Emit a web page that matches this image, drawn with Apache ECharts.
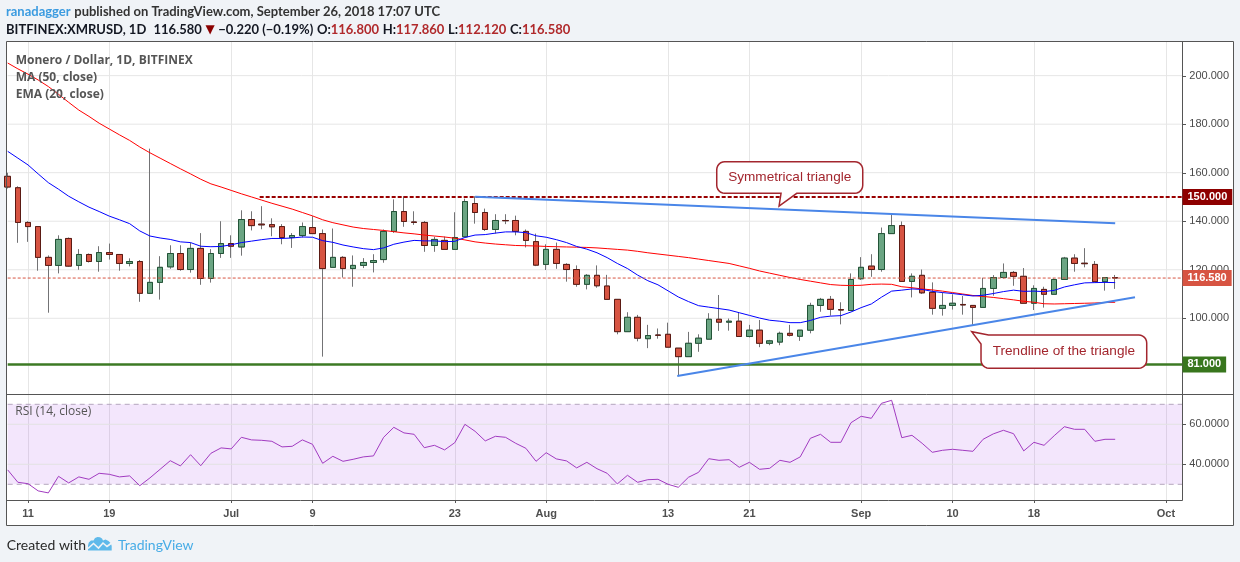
<!DOCTYPE html>
<html><head><meta charset="utf-8">
<script src="https://cdn.jsdelivr.net/npm/echarts@6/dist/echarts.min.js"></script>
<style>html,body{margin:0;padding:0;background:#f0f3f7;}#c{width:1240px;height:562px;}</style>
</head><body><div id="c"></div>
<script>
// ---------- data ----------
const startDate = [2018, 5, 9];      // 9 Jun 2018 (first daily candle)
const categoryCount = 117;           // daily slots shown on the axis (up to early Oct)
const opens = [158.5,153.8,139.5,137.8,125.1,121.8,132.9,121.8,126.3,123.4,
127.1,126.3,122.6,123.4,110.3,114.8,121.2,126.7,120.1,128.8,
116.4,126.7,130.8,129.4,140.7,138.8,138.6,137.8,133.3,134.1,
137.4,134.9,121.0,125.1,120.5,121.8,123.0,124.2,135.8,144.0,
139.7,139.5,130.0,132.1,128.4,133.6,147.3,143.6,136.6,140.3,
140.3,135.8,131.6,122.2,128.4,122.2,120.1,114.0,117.7,113.3,
107.8,94.5,100.4,91.6,93.1,93.4,87.7,84.2,89.7,91.4,
99.6,98.4,98.8,92.5,95.1,89.7,90.2,93.8,92.6,95.1,
105.3,107.8,103.6,103.2,116.3,121.5,120.1,134.9,138.2,115.2,
117.7,110.7,104.1,105.3,105.7,105.3,104.5,112.3,116.8,118.9,
117.3,106.2,111.9,109.9,116.0,124.8,122.7,122.2,115.1,116.8];
const highs = [160.0,154.4,140.0,138.0,125.9,134.2,133.3,128.5,126.7,129.7,
130.8,126.5,124.7,124.0,169.9,125.6,130.1,130.1,131.2,135.1,
128.5,140.0,134.2,144.5,144.1,146.2,141.2,138.8,135.1,139.5,
142.1,136.6,137.0,125.6,125.9,124.8,126.4,136.6,149.0,150.3,
144.1,140.1,133.6,133.7,143.7,149.3,150.3,145.2,142.9,142.9,
142.3,136.6,134.9,130.5,131.2,122.7,121.8,118.2,121.8,117.9,
107.8,102.5,101.4,97.3,95.8,98.2,87.7,94.4,93.4,102.1,
109.6,99.9,102.5,97.3,99.3,91.1,94.5,97.3,95.1,106.4,
108.4,109.2,106.6,118.5,125.2,126.4,137.4,142.9,139.9,118.5,
120.1,114.8,110.7,109.9,109.2,105.3,116.7,117.8,122.6,119.5,
120.7,113.6,113.0,116.4,125.3,126.4,128.9,123.6,117.0,117.86];
const lows = [153.5,131.1,131.5,119.6,102.3,118.5,121.2,120.0,123.0,119.2,
124.2,119.6,121.4,106.8,110.0,107.7,120.4,119.6,118.8,113.8,
114.7,124.9,124.9,125.8,136.2,136.7,133.8,130.5,129.0,133.3,
134.9,84.2,121.0,116.8,113.0,120.7,118.9,122.9,135.2,137.7,
138.5,127.4,127.4,128.4,128.4,133.4,139.0,136.0,134.9,138.8,
134.2,129.2,121.5,119.9,120.4,115.1,113.0,111.9,112.6,107.8,
93.4,94.5,90.5,87.7,91.6,88.1,76.6,84.2,86.2,91.4,
94.8,94.9,92.5,92.1,88.1,88.9,88.9,92.5,90.7,93.8,
102.7,101.1,97.5,103.2,115.8,117.1,119.2,134.9,115.2,108.6,
110.0,101.5,101.1,103.6,101.5,97.3,104.5,109.3,116.4,113.4,
106.2,103.4,104.4,109.9,116.0,119.2,121.0,115.1,111.4,112.12];
const closes = [154.1,139.5,137.8,125.1,121.8,132.5,121.5,126.3,123.4,127.1,
126.3,122.6,123.4,110.3,114.8,121.0,126.7,120.1,128.8,116.4,
126.7,130.8,129.7,140.7,138.2,138.5,137.7,133.3,134.1,137.8,
134.9,120.5,125.1,120.5,121.8,123.0,123.8,135.8,144.0,139.9,
139.5,130.0,132.5,128.4,133.3,148.1,143.6,136.6,140.3,140.2,
135.8,132.1,121.9,128.4,122.6,120.1,114.0,117.7,113.4,107.8,
94.5,100.4,91.8,92.9,93.0,88.1,84.2,89.7,91.8,99.6,
98.4,98.8,92.5,95.1,89.7,90.7,93.8,93.0,95.1,105.3,
107.8,103.7,103.4,116.0,121.0,120.1,134.9,138.2,115.2,117.3,
110.5,104.1,105.3,106.2,105.5,104.5,112.3,116.8,118.9,117.3,
106.2,112.3,109.9,116.0,124.8,122.6,122.5,115.1,116.8,116.58];
const ma50 = [205.2,202.8,200.6,198.2,195.5,192.3,189.0,185.8,183.2,180.4,
178.0,175.6,173.3,170.6,168.2,166.0,163.8,161.6,159.5,157.3,
155.4,154.1,152.7,151.3,150.0,148.7,147.4,146.2,145.0,143.6,
142.2,140.6,139.4,138.5,137.6,137.0,136.6,136.2,135.7,135.2,
134.8,134.3,133.9,133.5,133.0,132.3,131.5,131.0,130.6,130.3,
130.0,129.9,129.8,129.6,129.5,129.4,129.3,129.2,129.0,128.7,
128.4,128.1,127.6,127.0,126.5,126.0,125.5,125.0,124.4,123.8,
123.2,122.6,121.6,120.6,119.5,118.6,117.7,116.8,116.0,115.3,
114.6,113.9,113.6,113.5,113.6,114.0,114.1,114.0,113.0,112.6,
112.1,111.7,111.2,110.6,110.0,109.4,109.0,108.6,108.1,107.6,
107.0,106.6,106.0,105.9,106.0,106.1,106.2,106.3,106.5,106.6];
const ema20 = [168.8,166.0,163.2,159.5,155.9,153.2,150.3,148.0,145.8,144.0,
142.1,140.6,139.0,136.0,133.9,133.1,132.5,131.5,131.2,129.7,
129.5,129.6,130.3,131.2,131.8,132.4,132.9,132.9,133.1,133.5,
133.4,132.0,131.3,130.2,129.4,128.7,128.3,129.0,130.5,131.4,
132.1,131.9,131.9,131.6,131.7,133.3,134.3,134.5,135.1,135.6,
135.6,135.3,134.0,133.4,132.4,131.2,129.6,128.5,127.0,125.0,
122.6,120.5,117.8,115.5,113.8,111.3,108.8,106.9,105.2,104.6,
104.0,103.4,102.3,101.2,100.1,99.2,98.8,98.2,98.2,99.1,
100.4,100.9,101.1,102.6,104.4,105.9,108.7,111.2,111.6,112.1,
111.9,111.1,110.6,110.2,109.7,109.2,109.5,110.2,111.0,111.6,
111.1,111.2,111.0,111.5,112.9,113.8,114.6,114.7,114.8,114.7];
const rsi14 = [37.2,31.0,30.3,26.7,25.7,34.0,30.7,33.7,32.5,35.5,
35.0,33.7,34.2,29.3,33.2,37.5,41.8,39.2,44.8,39.3,
45.5,48.2,47.7,53.5,52.2,52.0,51.5,48.7,49.0,52.2,
50.0,40.5,44.0,41.5,42.5,43.7,44.2,53.5,58.5,55.7,
55.0,48.3,49.5,47.2,50.8,60.0,56.5,51.7,54.0,53.5,
50.5,48.0,41.5,45.8,42.7,41.7,38.2,41.0,37.8,35.5,
30.2,34.5,31.0,32.3,32.5,30.0,28.5,33.5,36.0,42.8,
42.0,42.3,38.5,41.0,37.5,38.0,42.0,41.0,43.7,53.0,
55.0,51.0,51.0,60.8,64.0,63.0,70.5,72.0,53.3,54.5,
50.5,46.0,47.0,47.5,47.0,46.5,52.5,55.2,57.0,55.3,
46.7,51.0,49.5,54.3,58.8,57.5,57.5,51.5,52.5,52.5];
const xTickDates = ['2018-06-11','2018-06-19','2018-07-01','2018-07-09','2018-07-23','2018-08-01','2018-08-13','2018-08-21','2018-09-01','2018-09-10','2018-09-18','2018-10-01'];
const xTickLabels = ['11','19','Jul','9','23','Aug','13','21','Sep','10','18','Oct'];
const priceTicks = [100,120,140,160,180,200];
const rsiTicks = [40,60];
const rsiBands = [30,70];
const resistanceLevel = 150;
const resistanceStart = 24.8;      // day index where the dashed 150 line begins
const supportLevel = 81;
const upperTrend = [[46,150.1],[109,139.2]];
const lowerTrend = [[65.9,76.2],[110.95,108.65]];
const notes = [
  {text:'Symmetrical triangle', box:[76.97,158.02], tip:[75.92,146.28]},
  {text:'Trendline of the triangle', box:[103.95,86.26], tip:[94.88,94.48]}
];

// ---------- layout / style ----------
const PX = {left:7.7, right:1186.3, top:41.7, mid:394.3, bottom:500};
const AXIS_X = 1182.5;    // visible price-axis line
const plotEdge = 115.6;   // day-axis value at the visible price-axis line
const AX_FONT = 'Liberation Sans';
const HDR_FONT = 'Lato';
const LEG_FONT = 'Open Sans';

const categories = [];
{
  const d0 = Date.UTC(startDate[0], startDate[1], startDate[2]);
  for (let k = 0; k < categoryCount; k++) categories.push(new Date(d0 + k*86400000).toISOString().slice(0,10));
}
const wicks = opens.map((o,k)=>[o, closes[k], lows[k], highs[k]]);
const bodies = opens.map((o,k)=>[o, closes[k], Math.min(o,closes[k]), Math.max(o,closes[k])]);
const lastIdx = closes.length - 1;
const lastPrice = closes[lastIdx];
const chg = closes[lastIdx] - closes[lastIdx-1];
const chgPct = chg / closes[lastIdx-1] * 100;
const sgn = (v, d) => (v < 0 ? '\u2212' : '+') + Math.abs(v).toFixed(d);
const isTick = (i, v) => xTickDates.indexOf(v) >= 0;

const chart = echarts.init(document.getElementById('c'));

const hLine = (xi, yi, y, color, width, type, z, x0) => ({
  type:'line', xAxisIndex:xi, yAxisIndex:yi, silent:true, symbol:'none', showSymbol:false, animation:false, z:z,
  data:[[x0 === undefined ? 0 : x0, y],[plotEdge, y]],
  lineStyle:{color:color, width:width, type:type}
});

const series = [];
priceTicks.forEach(p => series.push(hLine(2,0,p,'#e6e6e6',1,'solid',1)));
rsiTicks.forEach(p => series.push(hLine(3,1,p,'#e2e2e2',1,'solid',1)));
series.push(Object.assign(hLine(3,1,rsiBands[0],'#b4a7bd',1,[5,4],3), {
  markArea:{silent:true, itemStyle:{color:'rgba(153,51,230,0.12)'}, data:[[{coord:[0,rsiBands[0]]},{coord:[plotEdge,rsiBands[1]]}]]}
}));
series.push(hLine(3,1,rsiBands[1],'#b4a7bd',1,[5,4],3));
series.push({type:'line', xAxisIndex:1, yAxisIndex:1, data:rsi14, symbol:'none', showSymbol:false, silent:true, z:5,
  lineStyle:{color:'#a13bc0', width:1}});
series.push({type:'candlestick', xAxisIndex:0, yAxisIndex:0, data:wicks, barWidth:6, silent:true, z:2, clip:true,
  itemStyle:{color:'rgba(0,0,0,0)', color0:'rgba(0,0,0,0)', borderColor:'#737375', borderColor0:'#737375', borderWidth:1}});
series.push({type:'candlestick', xAxisIndex:0, yAxisIndex:0, data:bodies, barWidth:6, silent:true, z:3, clip:true,
  itemStyle:{color:'#6ba583', color0:'#d75442', borderColor:'#225437', borderColor0:'#5b1a13', borderWidth:1}});
series.push({type:'line', xAxisIndex:0, yAxisIndex:0, data:ma50, symbol:'none', showSymbol:false, silent:true, z:4, lineStyle:{color:'#ff0000', width:1}});
series.push({type:'line', xAxisIndex:0, yAxisIndex:0, data:ema20, symbol:'none', showSymbol:false, silent:true, z:4, lineStyle:{color:'#0000ff', width:1}});
series.push(hLine(2,0,lastPrice,'#d75442',1,[3,2],4));
series.push(hLine(2,0,resistanceLevel,'#990000',2,[4,2],4,resistanceStart));
series.push(hLine(2,0,supportLevel,'#3c7a24',2.5,'solid',4));
[upperTrend, lowerTrend].forEach(t => series.push({type:'line', xAxisIndex:2, yAxisIndex:0, data:t, symbol:'none', showSymbol:false, silent:true, z:6,
  lineStyle:{color:'#4a86e8', width:2}}));

const catAxis = (grid, showLabel) => ({
  type:'category', gridIndex:grid, data:categories, boundaryGap:false,
  axisLine:{show:false, onZero:false},
  axisTick:{show:showLabel, interval:isTick, length:3, lineStyle:{color:'#555'}},
  axisLabel:{show:showLabel, interval:isTick, formatter:v => xTickLabels[xTickDates.indexOf(v)],
    color:'#4f4f4f', fontSize:11, fontWeight:'bold', fontFamily:AX_FONT, margin:8},
  splitLine:{show:true, interval:isTick, lineStyle:{color:'#e6e6e6', width:1}}
});
const valAxis = grid => ({type:'value', gridIndex:grid, min:0, max:categoryCount-1, show:false,
  axisLine:{show:false, onZero:false}, splitLine:{show:false}, axisTick:{show:false}, axisLabel:{show:false}});

const option = {
  animation:false,
  backgroundColor:'#f0f3f7',
  title:[
    {left:6, top:3.7, padding:0,
     text:'{u|ranadagger} {p|published on TradingView.com, September 26, 2018 17:07 UTC}',
     textStyle:{fontSize:13, lineHeight:16, rich:{
       u:{color:'#3b9be0', fontFamily:HDR_FONT, fontSize:13, lineHeight:16},
       p:{color:'#333', fontFamily:HDR_FONT, fontSize:13, lineHeight:16}}}},
    {left:6, top:22, padding:0,
     text:'{b|BITFINEX:XMRUSD, 1D}  {n|' + lastPrice.toFixed(3) + '} {r|\u25BC} {n|' + sgn(chg,3) + ' (' + sgn(chgPct,2) + '%)} ' +
          '{b|O:}{v|' + opens[lastIdx].toFixed(3) + '} {b|H:}{v|' + highs[lastIdx].toFixed(3) + '} {b|L:}{v|' + lows[lastIdx].toFixed(3) + '} {b|C:}{v|' + closes[lastIdx].toFixed(3) + '}',
     textStyle:{fontSize:13, lineHeight:16, rich:{
       b:{color:'#131722', fontFamily:HDR_FONT, fontSize:13, fontWeight:'bold', lineHeight:16},
       n:{color:'#131722', fontFamily:HDR_FONT, fontSize:13, lineHeight:16},
       r:{color:'#8b0000', fontFamily:'DejaVu Sans', fontSize:12, lineHeight:16},
       v:{color:'#b0292b', fontFamily:HDR_FONT, fontSize:13, lineHeight:16}}}},
    {left:15.7, top:52.2, padding:0,
     text:'{t|Monero / Dollar, 1D, BITFINEX}\n{s|MA (50, close)}\n{s|EMA (20, close)}',
     textStyle:{rich:{
       t:{color:'#555', fontFamily:LEG_FONT, fontSize:12, fontWeight:'bold', lineHeight:17},
       s:{color:'#555', fontFamily:LEG_FONT, fontSize:12, lineHeight:17}}}},
    {left:15.3, top:403.7, padding:0, text:'RSI (14, close)',
     textStyle:{color:'#555', fontFamily:LEG_FONT, fontSize:12, fontWeight:'normal', lineHeight:16}},
    {left:6.7, top:537, padding:0, text:'Created with',
     textStyle:{color:'#2a2a2a', fontFamily:HDR_FONT, fontSize:14, fontWeight:'normal', lineHeight:16}},
    {left:118, top:537, padding:0, text:'TradingView',
     textStyle:{color:'#47ace6', fontFamily:HDR_FONT, fontSize:14, fontWeight:'normal', lineHeight:16}}
  ],
  grid:[
    {left:PX.left, top:PX.top, width:PX.right-PX.left, height:PX.mid-PX.top, outerBoundsMode:'none', containLabel:false},
    {left:PX.left, top:PX.mid, width:PX.right-PX.left, height:PX.bottom-PX.mid, outerBoundsMode:'none', containLabel:false}
  ],
  xAxis:[catAxis(0,false), catAxis(1,true), valAxis(0), valAxis(1)],
  yAxis:[
    {type:'value', gridIndex:0, position:'right', offset:-4, min:68.68, max:213.98,
     axisLine:{show:false, onZero:false}, splitLine:{show:false}, axisTick:{show:false},
     axisLabel:{customValues:priceTicks, formatter:v => v.toFixed(3), color:'#4a4a4a', fontSize:11, fontFamily:AX_FONT, margin:7}},
    {type:'value', gridIndex:1, position:'right', offset:-4, min:22.15, max:75,
     axisLine:{show:false, onZero:false}, splitLine:{show:false}, axisTick:{show:false},
     axisLabel:{customValues:rsiTicks, formatter:v => v.toFixed(4), color:'#4a4a4a', fontSize:11, fontFamily:AX_FONT, margin:7}}
  ],
  series:series
};
chart.setOption(option);

// ---------- overlays positioned through the axes ----------
const px = (xv, yv) => [chart.convertToPixel({xAxisIndex:2}, xv), chart.convertToPixel({yAxisIndex:0}, yv)];
const NOTE_STYLE = [
  {w:146, h:31.6, r:8, tail:'bottom', base:[64.3, 80]},
  {w:165.7, h:33.3, r:8, tail:'topleft', base:[7.5, 9]}
];
const NOTE_COLOR = '#a3262e';
function arcPts(cx, cy, r, a0, a1) {
  const out = [];
  for (let k = 0; k <= 6; k++) { const a = a0 + (a1 - a0) * k / 6; out.push([cx + r*Math.cos(a), cy + r*Math.sin(a)]); }
  return out;
}
function callout(cfg, st) {
  const c = px(cfg.box[0], cfg.box[1]);
  const t = px(cfg.tip[0], cfg.tip[1]);
  const w = st.w, h = st.h, r = st.r, x = c[0]-w/2, y = c[1]-h/2, P = Math.PI;
  let pts;
  const TL = arcPts(x+r, y+r, r, P, 1.5*P), TR = arcPts(x+w-r, y+r, r, -0.5*P, 0),
        BR = arcPts(x+w-r, y+h-r, r, 0, 0.5*P), BL = arcPts(x+r, y+h-r, r, 0.5*P, P);
  if (st.tail === 'bottom') {
    pts = [...TL, ...TR, ...BR, [x+st.base[1], y+h], t, [x+st.base[0], y+h], ...BL];
  } else {
    pts = [[x+st.base[0], y], ...TR, ...BR, ...BL, [x, y+st.base[1]], t];
  }
  return [
    {type:'polygon', shape:{points:pts}, style:{fill:'#fff', stroke:NOTE_COLOR, lineWidth:1.5}, z:40, silent:true},
    {type:'text', x:c[0], y:c[1], style:{text:cfg.text, fill:NOTE_COLOR, font:'13.6px "Liberation Sans"', align:'center', verticalAlign:'middle'}, z:41, silent:true}
  ];
}
const g = [];
g.push({type:'rect', shape:{x:6.5, y:41.5, width:1227, height:484}, style:{fill:'#ffffff'}, z:-100, silent:true});
g.push({type:'rect', shape:{x:6.5, y:41.5, width:1227, height:484}, style:{fill:'none', stroke:'#555', lineWidth:1}, z:50, silent:true});
g.push({type:'line', shape:{x1:AXIS_X, y1:41.5, x2:AXIS_X, y2:500.5}, style:{stroke:'#555', lineWidth:1}, z:50, silent:true});
g.push({type:'line', shape:{x1:6.5, y1:394.5, x2:1233.5, y2:394.5}, style:{stroke:'#555', lineWidth:1}, z:50, silent:true});
g.push({type:'line', shape:{x1:6.5, y1:500.5, x2:AXIS_X, y2:500.5}, style:{stroke:'#555', lineWidth:1}, z:50, silent:true});
// small tick marks on the price / RSI axes
priceTicks.forEach(p => { const y = Math.round(chart.convertToPixel({yAxisIndex:0}, p)) + 0.5;
  g.push({type:'line', shape:{x1:AXIS_X, y1:y, x2:AXIS_X+3.5, y2:y}, style:{stroke:'#555', lineWidth:1}, z:50, silent:true}); });
rsiTicks.forEach(p => { const y = Math.round(chart.convertToPixel({yAxisIndex:1}, p)) + 0.5;
  g.push({type:'line', shape:{x1:AXIS_X, y1:y, x2:AXIS_X+3.5, y2:y}, style:{stroke:'#555', lineWidth:1}, z:50, silent:true}); });
notes.forEach((n,k) => g.push(...callout(n, NOTE_STYLE[k])));
[[resistanceLevel,'#8e0000'],[lastPrice,'#d75442'],[supportLevel,'#38761d']].forEach(([v,col]) => {
  g.push({type:'text', x:AXIS_X, y:chart.convertToPixel({yAxisIndex:0}, v),
    style:{text:v.toFixed(3), fill:'#fff', font:'bold 11px "Liberation Sans"', backgroundColor:col, padding:[2,5,2,5], lineHeight:12, align:'left', verticalAlign:'middle'}, z:60, silent:true});
});
// TradingView logo (footer)
g.push({type:'polygon', shape:{points:[[88,550.5],[88,545.5],[88.8,542.5],[91,540.6],[93.5,540.5],[95,538],[97.5,536.9],[100,537.3],[102,538.5],[103,540.5],[105.5,539.6],[108.5,541],[110.8,543.2],[111.7,546],[111.7,550.5]]},
  style:{fill:'#5fb9ea'}, z:10, silent:true});
g.push({type:'polyline', shape:{points:[[88,548.5],[93.5,543.5],[98.5,548],[103,543],[107,546.5],[111.7,543]]},
  style:{stroke:'#f0f3f7', lineWidth:1.6, fill:'none'}, z:11, silent:true});
chart.setOption({graphic:g});
</script></body></html>
